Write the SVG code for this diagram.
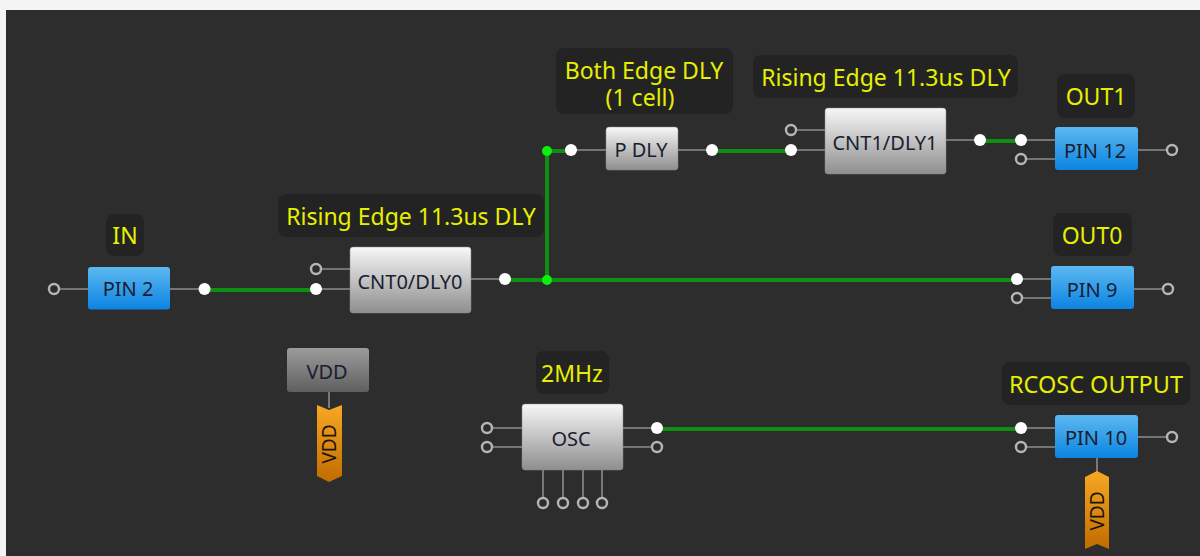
<svg xmlns="http://www.w3.org/2000/svg" width="1200" height="556" viewBox="0 0 1200 556">
<style>
text{font-family:"Noto Sans","DejaVu Sans",sans-serif;text-anchor:middle}
.lb{fill:#232323}
.lt{fill:#e6f000;font-size:23px}
.nt{fill:#1a1d30;font-size:20px}
.gray{fill:url(#g);stroke:#8a8a8a;stroke-width:.5}
.blue{fill:url(#b)}
.w{stroke:#8c8c8c;stroke-width:1.6;fill:none}
.g{stroke:#0f8f13;stroke-width:4;fill:none}
.h{fill:#2d2d2d;stroke:#b5b5b5;stroke-width:2.4;r:5px}
.d{fill:#fff}
.j{fill:#0cf00c}
.r{fill:#1c1408;font-size:19px}
</style>
<defs>
<linearGradient id="g" x1="0" y1="0" x2="0" y2="1"><stop offset="0" stop-color="#f7f7f7"/><stop offset="1" stop-color="#8e8e8e"/></linearGradient>
<linearGradient id="b" x1="0" y1="0" x2="0" y2="1"><stop offset="0" stop-color="#5cb8f0"/><stop offset="1" stop-color="#0b84e2"/></linearGradient>
<linearGradient id="v" x1="0" y1="0" x2="0" y2="1"><stop offset="0" stop-color="#9c9c9c"/><stop offset="1" stop-color="#5f5f5f"/></linearGradient>
<linearGradient id="o" x1="0" y1="0" x2="0" y2="1"><stop offset="0" stop-color="#f7a823"/><stop offset="1" stop-color="#c06c00"/></linearGradient>
</defs>
<rect width="1200" height="556" fill="#f4f4f4"/>
<rect x="6" y="10" width="1194" height="546" fill="#2d2d2d"/>
<g id="connectors">
<path class="g" d="M204 290H316M505 280H1017M547 280V151H571M712 151H791M980 141H1021M657 429H1021"/>
</g>
<g id="pin2"><path class="w" d="M54 289H88M170 289H204"/><rect class="blue" x="88" y="267" width="82" height="42.500" rx="3"/><text class="nt" x="128" y="296">PIN 2</text><circle class="h" cx="54" cy="289" r="5"/><circle class="d" cx="204.500" cy="289" r="6"/></g>
<g id="in-label"><rect class="lb" x="106" y="214" width="38" height="42" rx="8"/><text class="lt" x="125" y="244">IN</text></g>
<g id="cnt0"><path class="w" d="M316 269H350M316 289H350M471 279H505"/><rect class="gray" x="350" y="247" width="121" height="66" rx="3"/><text class="nt" x="410" y="289">CNT0/DLY0</text><circle class="h" cx="316" cy="269" r="5"/><circle class="d" cx="316" cy="289" r="6"/><circle class="d" cx="505" cy="279" r="6"/></g>
<g id="cnt0-label"><rect class="lb" x="278" y="194" width="266" height="43" rx="8"/><text class="lt" x="411" y="225">Rising Edge 11.3us DLY</text></g>
<g id="pdly"><path class="w" d="M571 150H606M678 150H712"/><rect class="gray" x="606" y="127" width="72" height="43" rx="3"/><text class="nt" x="641" y="157">P DLY</text><circle class="d" cx="571" cy="150" r="6"/><circle class="d" cx="712" cy="150" r="6"/></g>
<g id="pdly-label"><rect class="lb" x="556" y="48" width="177" height="66" rx="8"/><text class="lt"><tspan x="644" y="79">Both Edge DLY</tspan><tspan x="640" y="106">(1 cell)</tspan></text></g>
<g id="cnt1"><path class="w" d="M791 130H825M791 150H825M946 140H980"/><rect class="gray" x="825" y="108" width="121" height="66" rx="3"/><text class="nt" x="885" y="150">CNT1/DLY1</text><circle class="h" cx="791" cy="130" r="5"/><circle class="d" cx="791" cy="150" r="6"/><circle class="d" cx="980" cy="140" r="6"/></g>
<g id="cnt1-label"><rect class="lb" x="753" y="55" width="265" height="43" rx="8"/><text class="lt" x="886" y="86">Rising Edge 11.3us DLY</text></g>
<g id="pin12"><path class="w" d="M1021 140H1055M1021 159H1055M1138 150H1172"/><rect class="blue" x="1055" y="127" width="83" height="43" rx="3"/><text class="nt" x="1095" y="158">PIN 12</text><circle class="d" cx="1021" cy="140" r="6"/><circle class="h" cx="1021" cy="159" r="5"/><circle class="h" cx="1172" cy="150" r="5"/></g>
<g id="out1-label"><rect class="lb" x="1057" y="74" width="78" height="44" rx="8"/><text class="lt" x="1096" y="105">OUT1</text></g>
<g id="pin9"><path class="w" d="M1017 279H1051M1017 298H1051M1134 289H1168"/><rect class="blue" x="1051" y="266" width="83" height="43" rx="3"/><text class="nt" x="1092" y="297">PIN 9</text><circle class="d" cx="1017" cy="279" r="6"/><circle class="h" cx="1017" cy="298" r="5"/><circle class="h" cx="1168" cy="289" r="5"/></g>
<g id="out0-label"><rect class="lb" x="1053" y="213" width="79" height="43" rx="8"/><text class="lt" x="1092" y="244">OUT0</text></g>
<g id="junctions"><circle class="j" cx="547" cy="151" r="5"/><circle class="j" cx="547" cy="280" r="5"/></g>
<g id="vdd"><path class="w" d="M329 392V408"/><rect x="287" y="348" width="82" height="44" rx="3" fill="url(#v)"/><text class="nt" x="327" y="379">VDD</text><path d="M317 405L329 410L342 405V476L329 482L317 476Z" fill="url(#o)"/><text class="r" transform="translate(336 444) rotate(-90)">VDD</text></g>
<g id="osc"><path class="w" d="M487 428H522M487 447H522M623 428H657M623 447H657M543 470V503M563 470V503M583 470V503M602 470V503"/><rect class="gray" x="522" y="404" width="101" height="66" rx="3"/><text class="nt" x="571" y="446">OSC</text><circle class="h" cx="487" cy="428" r="5"/><circle class="h" cx="487" cy="447" r="5"/><circle class="d" cx="657" cy="428" r="6"/><circle class="h" cx="657" cy="447" r="5"/><circle class="h" cx="543" cy="503" r="5"/><circle class="h" cx="563" cy="503" r="5"/><circle class="h" cx="583" cy="503" r="5"/><circle class="h" cx="602" cy="503" r="5"/></g>
<g id="osc-label"><rect class="lb" x="536" y="351" width="73" height="43" rx="8"/><text class="lt" x="572" y="382">2MHz</text></g>
<g id="pin10"><path class="w" d="M1021 428H1055M1021 447H1055M1138 437H1172M1097 458V474"/><rect class="blue" x="1055" y="415" width="83" height="43" rx="3"/><text class="nt" x="1096" y="445">PIN 10</text><circle class="d" cx="1021" cy="428" r="6"/><circle class="h" cx="1021" cy="447" r="5"/><circle class="h" cx="1172" cy="437" r="5"/><path d="M1085 477L1097 471L1109 477V549L1097 544L1085 549Z" fill="url(#o)"/><text class="r" transform="translate(1104 511) rotate(-90)">VDD</text></g>
<g id="rcosc-label"><rect class="lb" x="1002" y="362" width="188" height="43" rx="8"/><text class="lt" x="1096" y="393" textLength="174" lengthAdjust="spacingAndGlyphs">RCOSC OUTPUT</text></g>
</svg>
